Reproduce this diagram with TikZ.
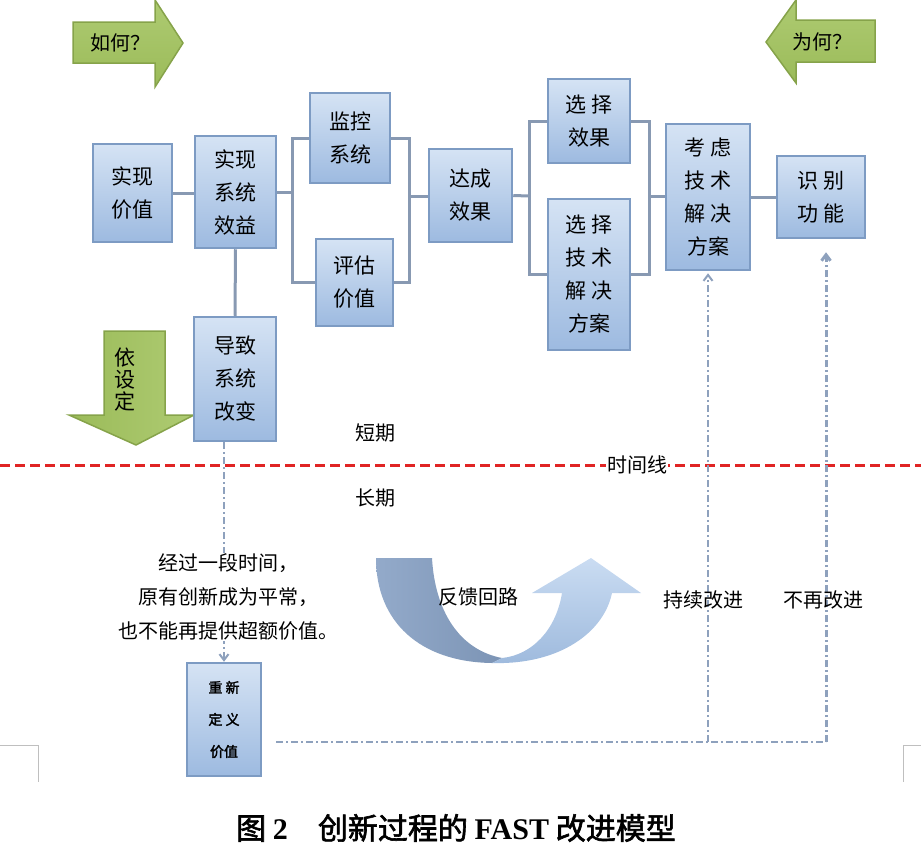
\documentclass[tikz,border=0pt]{standalone}
\usepackage{fontspec}
\setmainfont{Liberation Serif}
\newfontfamily\cjk{Noto Sans CJK SC}
\newfontfamily\cjkbf{Noto Sans CJK SC}[FakeBold=2]
\usetikzlibrary{arrows.meta}
\definecolor{boxtop}{HTML}{D5E3F4}
\definecolor{boxbot}{HTML}{9DBAE0}
\definecolor{boxline}{HTML}{7D9BC3}
\definecolor{linkcol}{HTML}{8899B2}
\definecolor{ddcol}{HTML}{8EA1BD}
\definecolor{arrgreen}{HTML}{9BBB59}
\definecolor{arrlight}{HTML}{AECB72}
\definecolor{arrline}{HTML}{86A34A}
\definecolor{timered}{HTML}{E02424}
\definecolor{loopdark}{HTML}{7C94B5}
\definecolor{loopmid}{HTML}{93AACA}
\definecolor{looptop}{HTML}{CADCF2}
\definecolor{loopbot}{HTML}{9EBADD}
\tikzset{
  fastbox/.style={draw=boxline, line width=2.5pt, top color=boxtop, bottom color=boxbot,
    align=center, inner sep=0pt, font=\cjk\fontsize{21}{33}\selectfont},
  link/.style={draw=linkcol, line width=3pt},
  dd/.style={draw=ddcol, line width=2pt, dash pattern=on 7pt off 3pt on 2pt off 3pt},
  lbl/.style={font=\cjk\fontsize{20}{34}\selectfont, align=center, inner sep=1pt},
  greenarrow/.style={top color=arrlight, bottom color=arrgreen, draw=arrline, line width=1.5pt},
  barb/.style={-{Straight Barb[length=6pt,width=9pt]}}
}
\begin{document}
\begin{tikzpicture}[x=1pt,y=-1pt]
\useasboundingbox (0,0) rectangle (921,857);
\draw[greenarrow] (73,22) -- (155,22) -- (155,0) -- (183,43) -- (155,87) -- (155,63) -- (73,63) -- cycle;
\node[lbl] (how) at (120,43) {如何？};
\draw[greenarrow] (875,20) -- (796,20) -- (796,0) -- (766,42) -- (796,83) -- (796,62) -- (875,62) -- cycle;
\node[lbl] (why) at (822,42) {为何？};
\draw[greenarrow, top color=arrgreen, bottom color=arrlight, shading angle=90] (104,331) -- (165,331) -- (165,415) -- (194,415) -- (136,445) -- (69,415) -- (104,415) -- cycle;
\node[lbl, font=\cjk\fontsize{21}{22}\selectfont] (assume) at (125,380) {依\\设\\定};

\node[fastbox, minimum width=79pt, minimum height=98pt] (val) at (132.5,193) {实现\\价值};
\node[fastbox, minimum width=81pt, minimum height=112pt] (sysben) at (235.5,192) {实现\\系统\\效益};
\node[fastbox, minimum width=80pt, minimum height=90pt] (mon) at (350,138) {监控\\系统};
\node[fastbox, minimum width=77pt, minimum height=87pt] (est) at (354.5,282.5) {评估\\价值};
\node[fastbox, minimum width=82pt, minimum height=124pt] (chg) at (235,379) {导致\\系统\\改变};
\node[fastbox, minimum width=83pt, minimum height=93pt] (eff) at (470.5,195.5) {达成\\效果};
\node[fastbox, minimum width=82pt, minimum height=84pt] (seleff) at (589,121) {选 择\\效果};
\node[fastbox, minimum width=82pt, minimum height=151pt] (seltech) at (589,274.5) {选 择\\技 术\\解 决\\方案};
\node[fastbox, minimum width=84pt, minimum height=146pt] (tech) at (708,197) {考 虑\\技 术\\解 决\\方案};
\node[fastbox, minimum width=88pt, minimum height=82pt] (fun) at (821,197) {识 别\\功 能};
\node[fastbox, minimum width=74pt, minimum height=113pt, font=\cjkbf\fontsize{14}{32}\selectfont] (redef) at (224,719.5) {重 新\\定 义\\价值};

\coordinate (b1) at (292,192);
\coordinate (b2) at (409,196);
\coordinate (b3) at (529,196);
\coordinate (b4) at (649,196);
\draw[link] (val.east) -- (val.east -| sysben.west);
\draw[link] (sysben.east) -- (b1);
\draw[link] (mon.west) -| (b1) |- (est.west);
\draw[link] (mon.east) -| (b2) |- (est.east);
\draw[link] (b2) -- (b2 -| eff.west);
\draw[link] (eff.east) -- (b3);
\draw[link] (seleff.west) -| (b3) |- (seltech.west);
\draw[link] (seleff.east) -| (b4) |- (seltech.east);
\draw[link] (b4) -- (b4 -| tech.west);
\draw[link] (tech.east) -- (fun.west);
\draw[link] (sysben.south) -- (chg.north);

\draw[timered, line width=3pt, dash pattern=on 10pt off 5pt] (0,465) -- (921,465);
\node[lbl, fill=white] (tline) at (637,465) {时间线};
\node[lbl] (short) at (375,433) {短期};
\node[lbl] (long) at (375,498) {长期};

\coordinate (c1) at (276,742);
\coordinate (c2) at (826,742);
\draw[dd, barb] (redef.north |- chg.south) -- (redef.north);
\node[lbl, fill=white] (note) at (228,597) {经过一段时间，\\原有创新成为平常，\\也不能再提供超额价值。};
\draw[dd] (c1) -- (c2);
\draw[dd, barb, shorten >=2pt] (tech.south |- c1) -- (tech.south);
\draw[dd, barb, line width=3pt, shorten >=13pt] (c2) -- (c2 |- fun.south);
\node[lbl] (keep) at (703,600) {持续改进};
\node[lbl] (stop) at (823,600) {不再改进};

\shade[left color=loopmid, right color=loopdark] (376,558) -- (432,558) .. controls (435,612) and (460,650) .. (502,658) -- (492,663) .. controls (420,662) and (376,622) .. (376,558) -- cycle;
\shade[top color=looptop, bottom color=loopbot] (492,663) .. controls (560,665) and (604,632) .. (612,593) -- (641,593) -- (591,558) -- (532,593) -- (562,593) .. controls (556,630) and (532,655) .. (502,658) -- cycle;
\node[lbl] (loop) at (478,597) {反馈回路};

\draw[gray!50, line width=1pt] (0,745) -- (38,745) -- (38,782);
\draw[gray!50, line width=1pt] (921,745) -- (903,745) -- (903,782);
\node[font=\fontsize{30}{36}\selectfont] (cap) at (456,828) {\cjkbf 图 \textrm{\bfseries 2}\quad 创新过程的 \textrm{\bfseries FAST} 改进模型};
\end{tikzpicture}
\end{document}
